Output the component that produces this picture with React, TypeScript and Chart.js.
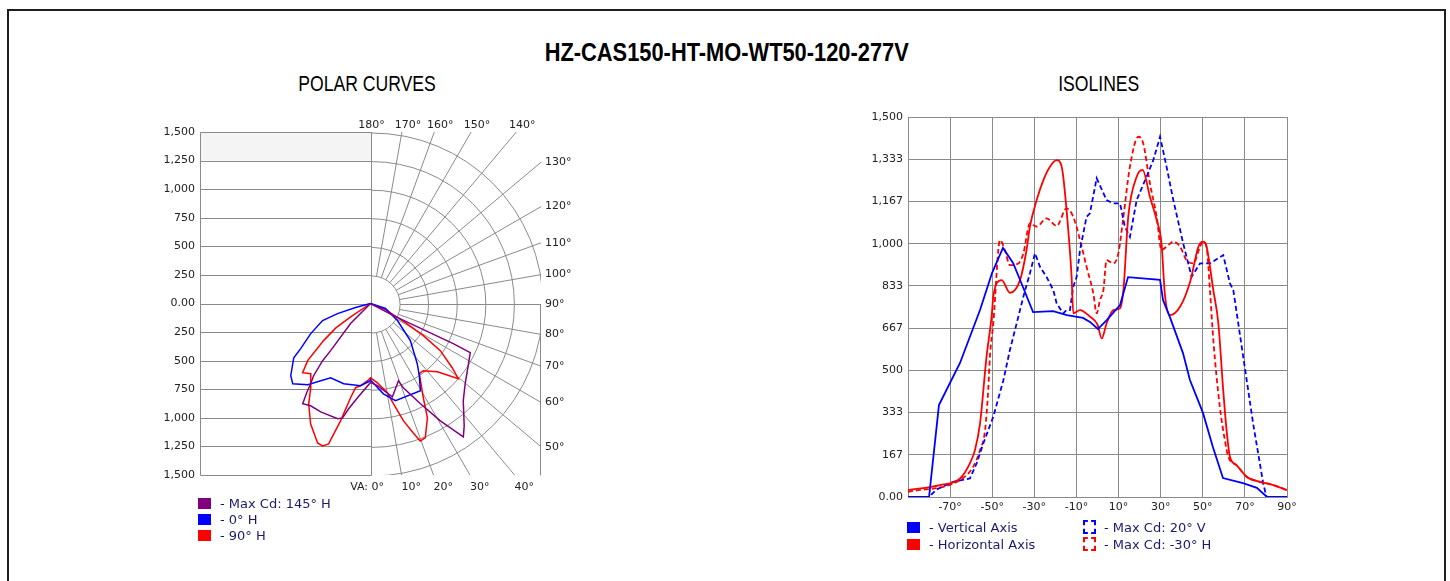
import React, { useEffect, useRef } from 'react';
import { Chart, registerables } from 'chart.js';
Chart.register(...registerables);

const TITLE = 'HZ-CAS150-HT-MO-WT50-120-277V';

// ---------- POLAR CURVES (vertical angle from nadir in degrees, intensity in cd) ----------
const maxCdLeftAngles = [0, 7.9, 11.8, 13.8, 16, 24.8, 30.5, 34.2, 35.7, 36.9, 38.4, 40.1, 40.4, 45, 90];
const maxCdLeftValues = [690, 832, 941, 1030, 1049, 1044, 1038, 1061, 962, 877, 806, 654, 541, 248, 0];
const maxCdRightAngles = [0, 4.9, 9.7, 13.3, 20, 21.4, 26.6, 30.9, 35, 37.6, 43.8, 49.9, 57.7, 63.9, 64.3, 63.9, 62.4, 90];
const maxCdRightValues = [690, 722, 783, 838, 719, 792, 981, 1196, 1424, 1351, 1179, 1089, 1017, 977, 808, 518, 228, 0];

const h0LeftAngles = [0, 7, 18.6, 28.4, 37.9, 44.3, 48, 54.9, 57.3, 63.4, 70.5, 73, 75, 90];
const h0LeftValues = [675, 725, 740, 738, 900, 980, 944, 825, 730, 588, 447, 303, 136, 0];
const h0RightAngles = [0, 8.2, 14.5, 29.9, 34.2, 38, 47.2, 57.8, 71.6, 90];
const h0RightValues = [670, 798, 878, 880, 764, 668, 478, 280, 139, 0];

const h90LeftAngles = [0, 2.2, 7, 10.1, 12, 14.4, 16.7, 18.7, 20.9, 26.6, 31.8, 35.5, 40.6, 44.6, 47.9, 51.8, 55, 56, 90];
const h90LeftValues = [650, 676, 725, 748, 843, 1060, 1282, 1315, 1305, 1177, 1032, 905, 809, 850, 745, 525, 372, 214, 0];
const h90RightAngles = [0, 5, 10.8, 13, 15.8, 18.4, 20, 22.3, 26.6, 29.4, 35, 38.3, 44.6, 49.6, 52, 56.1, 58.9, 61.5, 68, 90];
const h90RightValues = [650, 696, 795, 900, 1067, 1193, 1279, 1270, 1118, 947, 749, 749, 838, 1014, 912, 740, 543, 349, 142, 0];

const polarTicks = [-1500, -1250, -1000, -750, -500, -250, 0, 250, 500, 750, 1000, 1250, 1500];
const polarRings = [250, 500, 750, 1000, 1250, 1500];
const polarRadials = [0, 10, 20, 30, 40, 50, 60, 70, 80, 90, 100, 110, 120, 130, 140, 150, 160, 170, 180];
const polarTopLabels = [180, 170, 160, 150, 140];
const polarRightLabels = [130, 120, 110, 100, 90, 80, 70, 60, 50];
const polarBottomLabels = [0, 10, 20, 30, 40];

// ---------- ISOLINES (angle in degrees, intensity in cd) ----------
const vertX = [-90, -80, -75.3, -65.3, -55.8, -50.1, -44.9, -40.1, -35.4, -30.6, -21.1, -14.5, -6.9, -3.6, 0.2, 4.5, 10.7, 14.5, 29.7, 31.1, 34.4, 40.6, 43.9, 50.1, 54.8, 59.6, 69.1, 75.7, 80.5, 90];
const vertY = [0, 0, 363, 529, 738, 884, 983, 924, 829, 730, 734, 718, 707, 691, 663, 699, 758, 868, 857, 778, 710, 568, 462, 332, 197, 75, 55, 36, 0, 0];

const horzX = [-90, -74.8, -65.3, -60.6, -58.2, -55.8, -52.7, -50.3, -49.5, -47.9, -45.5, -41.6, -36.8, -33.7, -32.1, -28.9, -25.7, -22.6, -19.4, -17, -14.7, -12.3, -11.5, -8.3, -3.6, 0, 2, 4.3, 7.5, 10.7, 12.3, 14.6, 18.6, 21.4, 24.9, 28.1, 30.4, 32, 34.4, 39.2, 44, 48, 50.2, 51.8, 55, 57.4, 59.7, 61.3, 62.9, 66, 70.8, 77.1, 83.5, 90];
const horzY = [27, 47, 73, 133, 185, 290, 554, 712, 790, 843, 856, 806, 856, 975, 1067, 1172, 1251, 1304, 1330, 1304, 1133, 869, 725, 738, 712, 680, 626, 685, 738, 745, 817, 1106, 1264, 1291, 1185, 1093, 1001, 800, 718, 751, 850, 990, 1008, 988, 817, 685, 422, 264, 159, 126, 80, 60, 47, 27];

const maxVX = [-90, -80, -76.4, -68.5, -60.6, -57.4, -54.2, -49.5, -44.7, -41.6, -38.4, -35.2, -32.1, -29.7, -27.3, -24.2, -21, -19.4, -16.3, -14.7, -13.1, -11.5, -9.9, -8.3, -5.2, -3.6, -0.4, 4.3, 7.5, 10.7, 13, 15.4, 18.6, 23.3, 26.5, 29.7, 32.8, 36, 40.7, 44.7, 48.7, 53.4, 59.7, 62.9, 64.5, 69.2, 73.9, 77.1, 78.7, 80.3, 90];
const maxVY = [0, 0, 30, 60, 73, 133, 212, 317, 461, 580, 685, 791, 883, 962, 909, 869, 817, 764, 725, 738, 738, 830, 869, 975, 1106, 1120, 1258, 1172, 1159, 1159, 1067, 1027, 1172, 1264, 1330, 1422, 1304, 1172, 1001, 869, 922, 922, 955, 843, 817, 554, 291, 133, 53, 0, 0];

const maxHX = [-90, -65.3, -59, -55.8, -53.4, -51.9, -51.1, -49.5, -46.3, -44, -41.6, -37.6, -35.2, -32.1, -28.9, -24.2, -19.4, -14.7, -11.5, -8.3, -5.2, -2, -0.4, 1.2, 2.8, 4.3, 7.5, 9.9, 12.3, 15.4, 19.4, 21.7, 24.9, 28.1, 30.4, 33, 36, 39.2, 42.3, 45.5, 48.7, 50.2, 51.8, 53.4, 55, 58.1, 60.5, 62.1, 66, 70.8, 77.1, 83.5, 90];
const maxHY = [20, 67, 120, 185, 264, 422, 554, 685, 1014, 975, 915, 922, 962, 1080, 1067, 1100, 1070, 1139, 1106, 1014, 909, 804, 725, 778, 817, 935, 922, 962, 1106, 1304, 1422, 1396, 1238, 1106, 975, 990, 1008, 988, 935, 922, 988, 1008, 988, 817, 620, 356, 224, 159, 126, 80, 60, 47, 27];

const isoXTicks = [-90, -70, -50, -30, -10, 10, 30, 50, 70, 90];
const isoYTicks = [0, 166.667, 333.333, 500, 666.667, 833.333, 1000, 1166.667, 1333.333, 1500];
const isoYLabels = ['0.00', '167', '333', '500', '667', '833', '1,000', '1,167', '1,333', '1,500'];

const PURPLE = '#800080';
const BLUE = '#0000ff';
const RED = '#ff0000';
const GRID = '#8a8a8a';
const TEXT = '#222222';
const LEGEND_TEXT = '#1b1b6e';
const FONT = '"DejaVu Sans", Verdana, sans-serif';
const NARROW = '"Liberation Sans", Arial, sans-serif';

Chart.defaults.font.family = FONT;
Chart.defaults.font.size = 11;
Chart.defaults.color = TEXT;

function polarPoints(la: number[], lv: number[], ra: number[], rv: number[]) {
  const pts: { x: number; y: number }[] = [];
  for (let i = la.length - 1; i >= 0; i--) {
    const t = (la[i] * Math.PI) / 180;
    pts.push({ x: -lv[i] * Math.sin(t), y: -lv[i] * Math.cos(t) });
  }
  for (let i = 0; i < ra.length; i++) {
    const t = (ra[i] * Math.PI) / 180;
    pts.push({ x: rv[i] * Math.sin(t), y: -rv[i] * Math.cos(t) });
  }
  return pts;
}

function xyPoints(xs: number[], ys: number[]) {
  return xs.map((x, i) => ({ x, y: ys[i] }));
}

const polarGridPlugin = {
  id: 'polarGrid',
  beforeDatasetsDraw(chart: any) {
    const { ctx, chartArea: a, scales } = chart;
    const xs = scales.x;
    const ys = scales.y;
    const rmax = polarRings[polarRings.length - 1];
    const cx = Math.round(xs.getPixelForValue(0)) + 0.5;
    const cy = Math.round(ys.getPixelForValue(0)) + 0.5;
    const k = (ys.getPixelForValue(0) - ys.getPixelForValue(rmax)) / rmax;
    const x0 = Math.round(xs.getPixelForValue(-rmax)) + 0.5;
    const xr = Math.round(xs.getPixelForValue(rmax)) - 0.5;
    const top = Math.round(ys.getPixelForValue(rmax)) + 0.5;
    const bot = Math.round(ys.getPixelForValue(-rmax)) + 0.5;
    ctx.save();
    ctx.fillStyle = '#f4f4f4';
    const yb = ys.getPixelForValue(polarTicks[polarTicks.length - 2]);
    ctx.fillRect(x0, top, cx - x0, yb - top);
    ctx.strokeStyle = GRID;
    ctx.lineWidth = 1;
    ctx.beginPath();
    polarTicks.forEach((v) => {
      const y = Math.round(ys.getPixelForValue(v)) + 0.5;
      ctx.moveTo(x0, y);
      ctx.lineTo(cx, y);
    });
    ctx.moveTo(x0, top);
    ctx.lineTo(x0, bot);
    ctx.moveTo(cx, top);
    ctx.lineTo(cx, bot);
    ctx.moveTo(xr, cy);
    ctx.lineTo(xr, bot);
    ctx.stroke();
    ctx.beginPath();
    ctx.rect(a.left, a.top, a.right - a.left, a.bottom - a.top);
    ctx.clip();
    ctx.beginPath();
    polarRings.forEach((r) => {
      ctx.moveTo(cx, cy - r * k);
      ctx.arc(cx, cy, r * k, -Math.PI / 2, Math.PI / 2);
    });
    polarRadials.forEach((deg) => {
      const t = (deg * Math.PI) / 180;
      const dx = Math.sin(t);
      const dy = Math.cos(t);
      const r0 = polarRings[0] * k;
      const r1 = 600;
      ctx.moveTo(cx + dx * r0, cy + dy * r0);
      ctx.lineTo(cx + dx * r1, cy + dy * r1);
    });
    ctx.stroke();
    ctx.restore();

    ctx.save();
    ctx.fillStyle = TEXT;
    ctx.font = `11px ${FONT}`;
    ctx.textBaseline = 'middle';
    polarTopLabels.forEach((deg) => {
      const t = ((180 - deg) * Math.PI) / 180;
      const hx = cx + (cy - a.top) * Math.tan(t);
      ctx.textAlign = 'center';
      ctx.fillText(`${deg}°`, hx + (deg === 180 ? 0 : 6), a.top - 7);
    });
    polarRightLabels.forEach((deg) => {
      const t = ((90 - deg) * Math.PI) / 180;
      const hy = cy + (a.right - cx) * Math.tan(t);
      ctx.textAlign = 'left';
      ctx.fillText(`${deg}°`, a.right + 4, hy);
    });
    polarBottomLabels.forEach((deg) => {
      const t = (deg * Math.PI) / 180;
      const hx = cx + (a.bottom - cy) * Math.tan(t);
      ctx.textAlign = 'left';
      ctx.fillText(`${deg}°`, hx, a.bottom + 12);
      if (deg === 0) {
        ctx.textAlign = 'right';
        ctx.fillText('VA: ', hx, a.bottom + 12);
      }
    });
    ctx.restore();
  },
};

function PolarChart() {
  const ref = useRef<HTMLCanvasElement>(null);
  useEffect(() => {
    const common = { showLine: true, pointRadius: 0, borderWidth: 1.5, tension: 0, fill: false };
    const chart = new Chart(ref.current as HTMLCanvasElement, {
      type: 'scatter',
      data: {
        datasets: [
          { ...common, label: 'Max Cd: 145° H', data: polarPoints(maxCdLeftAngles, maxCdLeftValues, maxCdRightAngles, maxCdRightValues), borderColor: PURPLE },
          { ...common, label: '0° H', data: polarPoints(h0LeftAngles, h0LeftValues, h0RightAngles, h0RightValues), borderColor: BLUE },
          { ...common, label: '90° H', data: polarPoints(h90LeftAngles, h90LeftValues, h90RightAngles, h90RightValues), borderColor: RED },
        ],
      } as any,
      options: {
        animation: false,
        responsive: false,
        events: [],
        layout: { padding: { left: 0, top: 22, right: 39, bottom: 75 } },
        plugins: { legend: { display: false }, tooltip: { enabled: false } },
        scales: {
          x: { type: 'linear', min: -1500, max: 1500, display: false },
          y: {
            type: 'linear',
            min: -1500,
            max: 1500,
            position: 'left',
            grid: { display: false, drawTicks: false },
            border: { display: false },
            afterBuildTicks: (scale: any) => {
              scale.ticks = polarTicks.map((v) => ({ value: v }));
            },
            afterFit: (scale: any) => {
              scale.width = 50;
            },
            ticks: {
              padding: 5,
              color: TEXT,
              font: { size: 11, family: FONT },
              callback: (v: any) => (v === 0 ? '0.00' : Math.abs(Number(v)).toLocaleString('en-US')),
            },
          },
        },
      } as any,
      plugins: [polarGridPlugin],
    });
    return () => chart.destroy();
  }, []);
  return (
    <canvas
      ref={ref}
      width={430}
      height={440}
      style={{ position: 'fixed', left: 150, top: 110, width: 430, height: 440, display: 'block' }}
    />
  );
}

function IsoChart() {
  const ref = useRef<HTMLCanvasElement>(null);
  useEffect(() => {
    const smooth = { showLine: true, pointRadius: 0, borderWidth: 1.8, cubicInterpolationMode: 'monotone', fill: false };
    const straight = { showLine: true, pointRadius: 0, borderWidth: 1.8, tension: 0, fill: false };
    const chart = new Chart(ref.current as HTMLCanvasElement, {
      type: 'scatter',
      data: {
        datasets: [
          { ...straight, label: 'Vertical Axis', data: xyPoints(vertX, vertY), borderColor: BLUE },
          { ...smooth, label: 'Horizontal Axis', data: xyPoints(horzX, horzY), borderColor: RED },
          { ...straight, label: 'Max Cd: 20° V', data: xyPoints(maxVX, maxVY), borderColor: BLUE, borderDash: [5, 3] },
          { ...smooth, label: 'Max Cd: -30° H', data: xyPoints(maxHX, maxHY), borderColor: RED, borderDash: [5, 3] },
        ],
      } as any,
      options: {
        animation: false,
        responsive: false,
        events: [],
        layout: { padding: { left: 0, top: 17, right: 23, bottom: 0 } },
        plugins: { legend: { display: false }, tooltip: { enabled: false } },
        scales: {
          x: {
            type: 'linear',
            min: -90,
            max: 90,
            grid: { color: GRID, drawTicks: false },
            border: { color: GRID },
            afterBuildTicks: (scale: any) => {
              scale.ticks = isoXTicks.map((v) => ({ value: v }));
            },
            afterFit: (scale: any) => {
              scale.height = 63;
            },
            ticks: {
              padding: 4,
              autoSkip: false,
              maxRotation: 0,
              color: TEXT,
              font: { size: 11, family: FONT },
              callback: (v: any) => (v === -90 ? '' : `${v}°`),
            },
          },
          y: {
            type: 'linear',
            min: 0,
            max: 1500,
            grid: { color: GRID, drawTicks: false },
            border: { color: GRID },
            afterBuildTicks: (scale: any) => {
              scale.ticks = isoYTicks.map((v) => ({ value: v }));
            },
            afterFit: (scale: any) => {
              scale.width = 58;
            },
            ticks: {
              padding: 5,
              color: TEXT,
              font: { size: 11, family: FONT },
              callback: (_v: any, i: number) => isoYLabels[i],
            },
          },
        },
      } as any,
    });
    return () => chart.destroy();
  }, []);
  return (
    <canvas
      ref={ref}
      width={460}
      height={460}
      style={{ position: 'fixed', left: 850, top: 100, width: 460, height: 460, display: 'block' }}
    />
  );
}

function LegendRow(props: { left: number; cy: number; color: string; dashed?: boolean; text: string; gap: number }) {
  const { left, cy, color, dashed, text, gap } = props;
  return (
    <div
      style={{
        position: 'fixed',
        left,
        top: cy - 8,
        height: 16,
        display: 'flex',
        alignItems: 'center',
        whiteSpace: 'nowrap',
        font: `13px ${FONT}`,
        color: LEGEND_TEXT,
      }}
    >
      {dashed ? (
        <div style={{ width: 9, height: 10, border: `2px dashed ${color}`, marginRight: gap }} />
      ) : (
        <div style={{ width: 13, height: 11, background: color, marginRight: gap }} />
      )}
      <span>{text}</span>
    </div>
  );
}

function Heading(props: { cx: number; top: number; size: number; bold?: boolean; scale: number; text: string }) {
  const { cx, top, size, bold, scale, text } = props;
  return (
    <div
      style={{
        position: 'fixed',
        left: cx - 300,
        top,
        width: 600,
        textAlign: 'center',
        font: `${bold ? 'bold ' : ''}${size}px/${size}px ${NARROW}`,
        color: '#000',
        whiteSpace: 'nowrap',
      }}
    >
      <span style={{ display: 'inline-block', transform: `scaleX(${scale})`, transformOrigin: 'center' }}>{text}</span>
    </div>
  );
}

export default function App() {
  return (
    <div>
      <div
        style={{
          position: 'fixed',
          left: 7,
          top: 9,
          width: 1439,
          height: 700,
          border: '2px solid #1e1e1e',
          boxSizing: 'border-box',
          background: '#ffffff',
        }}
      />
      <Heading cx={727} top={39} size={26} bold scale={0.84} text={TITLE} />
      <Heading cx={367} top={73} size={22} scale={0.8} text="POLAR CURVES" />
      <Heading cx={1099} top={73} size={22} scale={0.8} text="ISOLINES" />
      <PolarChart />
      <IsoChart />
      <LegendRow left={198} cy={503} color={PURPLE} text="- Max Cd: 145° H" gap={9} />
      <LegendRow left={198} cy={519} color={BLUE} text="- 0° H" gap={9} />
      <LegendRow left={198} cy={535} color={RED} text="- 90° H" gap={9} />
      <LegendRow left={907} cy={527} color={BLUE} text="- Vertical Axis" gap={9} />
      <LegendRow left={907} cy={544} color={RED} text="- Horizontal Axis" gap={9} />
      <LegendRow left={1083} cy={527} color={BLUE} dashed text="- Max Cd: 20° V" gap={8} />
      <LegendRow left={1083} cy={544} color={RED} dashed text="- Max Cd: -30° H" gap={8} />
    </div>
  );
}
